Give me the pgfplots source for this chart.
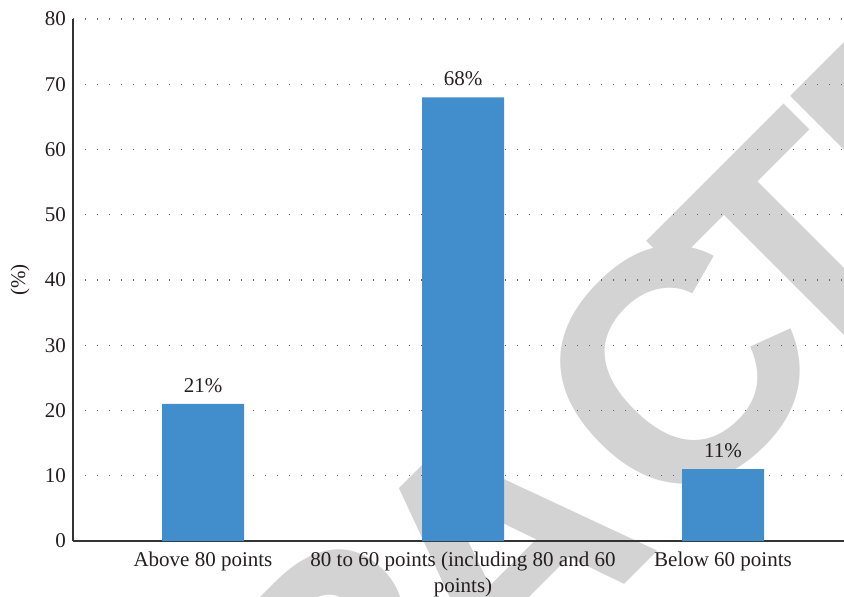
\documentclass[border=0pt]{standalone}
\usepackage{fontspec}
\setmainfont{Liberation Serif}
\newfontfamily\wmfont{Liberation Sans Bold}
\usepackage{pgfplots}
\pgfplotsset{compat=1.18}
\definecolor{barblue}{RGB}{66,142,204}
\definecolor{wmgray}{RGB}{211,211,211}
\definecolor{axisgray}{RGB}{51,51,51}
\definecolor{txt}{RGB}{35,31,32}
\begin{document}
\begin{tikzpicture}[wm/.style={rotate=45, text=wmgray, inner sep=0pt, anchor=center, font=\wmfont\fontsize{165pt}{165pt}\selectfont}]
\useasboundingbox (-36.5pt,-27.5pt) rectangle (385.5pt,270.5pt);
% RETRACTED watermark (only part of it lies inside the picture)
\node[wm] at (135.5pt,-66.5pt) {R};
\node[wm] at (213pt,-4pt) {A};
\node[wm] at (301.5pt,85.5pt) {C};
\node[wm] at (361pt,144pt) {T};
\node[wm] at (430pt,213.5pt) {E};
\begin{axis}[
  at={(0pt,0pt)}, anchor=south west,
  scale only axis, width=385.5pt, height=261pt,
  xmin=-0.5, xmax=2.4654, ymin=0, ymax=80,
  ytick={0,10,...,80},
  xtick={0,1,2},
  xticklabels={Above 80 points, {80 to 60 points (including 80 and 60\\points)}, Below 60 points},
  axis x line*=bottom, axis y line*=left,
  axis line style={draw=axisgray, line width=0.75pt, -},
  major tick length=0pt,
  ymajorgrids,
  grid style={dash pattern=on 0.6pt off 5.4pt, line width=0.6pt, black!60},
  /pgf/number format/assume math mode=true,
  tick label style={font=\fontsize{10.5pt}{13pt}\selectfont, text=txt},
  xticklabel style={align=center, yshift=-2pt},
  every axis y label/.style={at={(axis description cs:-0.0687,0.5)}, rotate=90, anchor=center, font=\fontsize{10.5pt}{12pt}\selectfont, text=txt},
  ylabel={(\%)},
  ybar, bar width=41pt,
  nodes near coords={\pgfmathprintnumber{\pgfplotspointmeta}\%},
  every node near coord/.append style={font=\fontsize{10.5pt}{12pt}\selectfont, text=txt, yshift=2pt},
]
\addplot[fill=barblue, draw=none] coordinates {(0,21) (1,68) (2,11)};
\end{axis}
\end{tikzpicture}
\end{document}
